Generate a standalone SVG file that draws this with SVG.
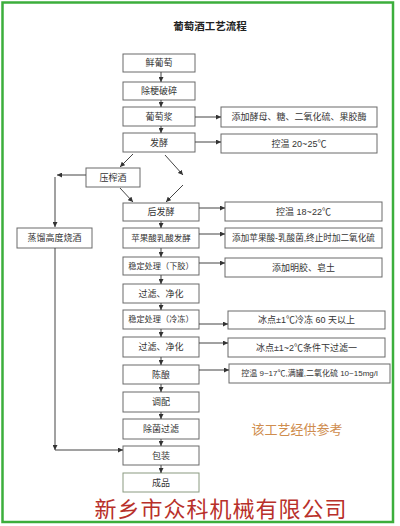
<svg xmlns="http://www.w3.org/2000/svg" width="400" height="526" viewBox="0 0 400 526">
<defs>
<marker id="ah" viewBox="0 0 10 10" refX="10" refY="5" markerWidth="5" markerHeight="5" orient="auto" markerUnits="userSpaceOnUse">
<path d="M0,0 L10,5 L0,10 z" fill="#333"/>
</marker>
<style>
.b{fill:#fff;stroke:#6a6a6a;stroke-width:1}
.t{font-family:"Liberation Sans","Noto Sans CJK SC",sans-serif;font-size:9px;fill:#333;text-anchor:middle;dominant-baseline:central}
.c{stroke:#444;stroke-width:1;fill:none;marker-end:url(#ah)}
.l{stroke:#444;stroke-width:1;fill:none}
</style>
</defs>
<rect x="0" y="0" width="400" height="526" fill="#fff"/>
<rect x="2.5" y="2.5" width="390.5" height="519.5" fill="none" stroke="#3cae3c" stroke-width="2.5"/>
<text x="210" y="25" style="font-family:'Noto Sans CJK SC',sans-serif;font-size:10.5px;font-weight:bold;fill:#222;text-anchor:middle;dominant-baseline:central">葡萄酒工艺流程</text>

<g id="n1"><rect class="b" x="123" y="54" width="72" height="18"/><text class="t" x="159" y="63">鲜葡萄</text></g>
<g id="n2"><rect class="b" x="123" y="82" width="72" height="18"/><text class="t" x="159" y="91">除梗破碎</text></g>
<g id="n3"><rect class="b" x="123" y="107" width="72" height="19"/><text class="t" x="159" y="116.5">葡萄浆</text></g>
<g id="n4"><rect class="b" x="123" y="133" width="72" height="19"/><text class="t" x="159" y="142.5">发酵</text></g>
<g id="n5"><rect class="b" x="86" y="168" width="54" height="19"/><text class="t" x="113" y="177.5">压榨酒</text></g>
<g id="n6"><rect class="b" x="123" y="203" width="76" height="18"/><text class="t" x="161" y="212">后发酵</text></g>
<g id="n7"><rect class="b" x="123" y="228" width="76" height="20"/><text class="t" x="161" y="238" style="font-size:8.5px">苹果酸乳酸发酵</text></g>
<g id="n8"><rect class="b" x="123" y="257" width="76" height="18"/><text class="t" x="161" y="266" style="font-size:8.2px">稳定处理（下胶）</text></g>
<g id="n9"><rect class="b" x="123" y="284" width="76" height="19"/><text class="t" x="161" y="293.5">过滤、净化</text></g>
<g id="n10"><rect class="b" x="123" y="310" width="76" height="19"/><text class="t" x="161" y="319.5" style="font-size:8.2px">稳定处理（冷冻）</text></g>
<g id="n11"><rect class="b" x="123" y="337" width="76" height="20"/><text class="t" x="161" y="347">过滤、净化</text></g>
<g id="n12"><rect class="b" x="123" y="365" width="76" height="19"/><text class="t" x="161" y="374.5">陈酿</text></g>
<g id="n13"><rect class="b" x="123" y="392" width="76" height="20"/><text class="t" x="161" y="402">调配</text></g>
<g id="n14"><rect class="b" x="123" y="419" width="76" height="20"/><text class="t" x="161" y="429">除菌过滤</text></g>
<g id="n15"><rect class="b" x="123" y="446" width="76" height="19"/><text class="t" x="161" y="455.5">包装</text></g>
<g id="n16"><rect class="b" x="123" y="473" width="76" height="19" style="stroke:#8a9a80"/><text class="t" x="161" y="482.5">成品</text></g>
<g id="n17"><rect class="b" x="17" y="228" width="75" height="20"/><text class="t" x="54.5" y="238">蒸馏高度烧酒</text></g>

<g id="r1"><rect class="b" x="221" y="107" width="156" height="20"/><text class="t" x="299" y="117">添加酵母、糖、二氧化硫、果胶酶</text></g>
<g id="r2"><rect class="b" x="221" y="134" width="156" height="19"/><text class="t" x="299" y="143.5">控温 20~25℃</text></g>
<g id="r3"><rect class="b" x="225" y="202" width="157" height="19"/><text class="t" x="303.5" y="211.5">控温 18~22℃</text></g>
<g id="r4"><rect class="b" x="225" y="228" width="157" height="20"/><text class="t" x="303.5" y="238" style="font-size:8.6px">添加苹果酸-乳酸菌,终止时加二氧化硫</text></g>
<g id="r5"><rect class="b" x="225" y="258" width="157" height="19"/><text class="t" x="303.5" y="267.5">添加明胶、皂土</text></g>
<g id="r6"><rect class="b" x="228" y="311" width="157" height="18"/><text class="t" x="306.5" y="320">冰点±1℃冷冻 60 天以上</text></g>
<g id="r7"><rect class="b" x="228" y="338" width="157" height="19"/><text class="t" x="306.5" y="347.5">冰点±1~2℃条件下过滤一</text></g>
<g id="r8"><rect class="b" x="229" y="364" width="161" height="19"/><text class="t" x="309.5" y="373.5" style="font-size:8px">控温 9~17℃,满罐,二氧化硫 10~15mg/l</text></g>

<g id="connectors">
<line class="c" x1="161" y1="72" x2="161" y2="82"/>
<line class="c" x1="161" y1="100" x2="161" y2="107"/>
<line class="c" x1="161" y1="126" x2="161" y2="133"/>
<line class="c" x1="161" y1="221" x2="161" y2="228"/>
<line class="c" x1="161" y1="248" x2="161" y2="257"/>
<line class="c" x1="161" y1="275" x2="161" y2="284"/>
<line class="c" x1="161" y1="303" x2="161" y2="310"/>
<line class="c" x1="161" y1="329" x2="161" y2="337"/>
<line class="c" x1="161" y1="357" x2="161" y2="365"/>
<line class="c" x1="161" y1="384" x2="161" y2="392"/>
<line class="c" x1="161" y1="412" x2="161" y2="419"/>
<line class="c" x1="161" y1="439" x2="161" y2="446"/>
<line class="c" x1="161" y1="465" x2="161" y2="473"/>

<line class="c" x1="195" y1="117" x2="221" y2="117"/>
<line class="c" x1="195" y1="142" x2="221" y2="142"/>
<line class="c" x1="199" y1="208" x2="225" y2="208"/>
<line class="c" x1="199" y1="234" x2="225" y2="234"/>
<line class="c" x1="199" y1="263" x2="225" y2="263"/>
<line class="c" x1="199" y1="324" x2="228" y2="324"/>
<line class="c" x1="199" y1="343" x2="228" y2="343"/>
<line class="c" x1="199" y1="370" x2="229" y2="370"/>

<line class="c" x1="133" y1="154" x2="120" y2="167"/>
<line class="c" x1="165" y1="155" x2="183" y2="175"/>
<line class="c" x1="183" y1="185" x2="166" y2="202"/>
<line class="c" x1="120" y1="188" x2="133" y2="202"/>

<line class="c" x1="86" y1="175" x2="57" y2="175"/>
<line class="c" x1="55" y1="177" x2="55" y2="227"/>
<line class="c" x1="55" y1="248" x2="55" y2="450"/>
<line class="c" x1="55" y1="450" x2="123" y2="450"/>
</g>

<text x="297" y="428" style="font-family:'Noto Sans CJK SC',sans-serif;font-size:13px;fill:#cf8d4e;text-anchor:middle;dominant-baseline:central">该工艺经供参考</text>
<text x="221" y="507" style="font-family:'Noto Sans CJK SC',sans-serif;font-size:22px;fill:#b8302a;text-anchor:middle;dominant-baseline:central;letter-spacing:1px">新乡市众科机械有限公司</text>
</svg>
